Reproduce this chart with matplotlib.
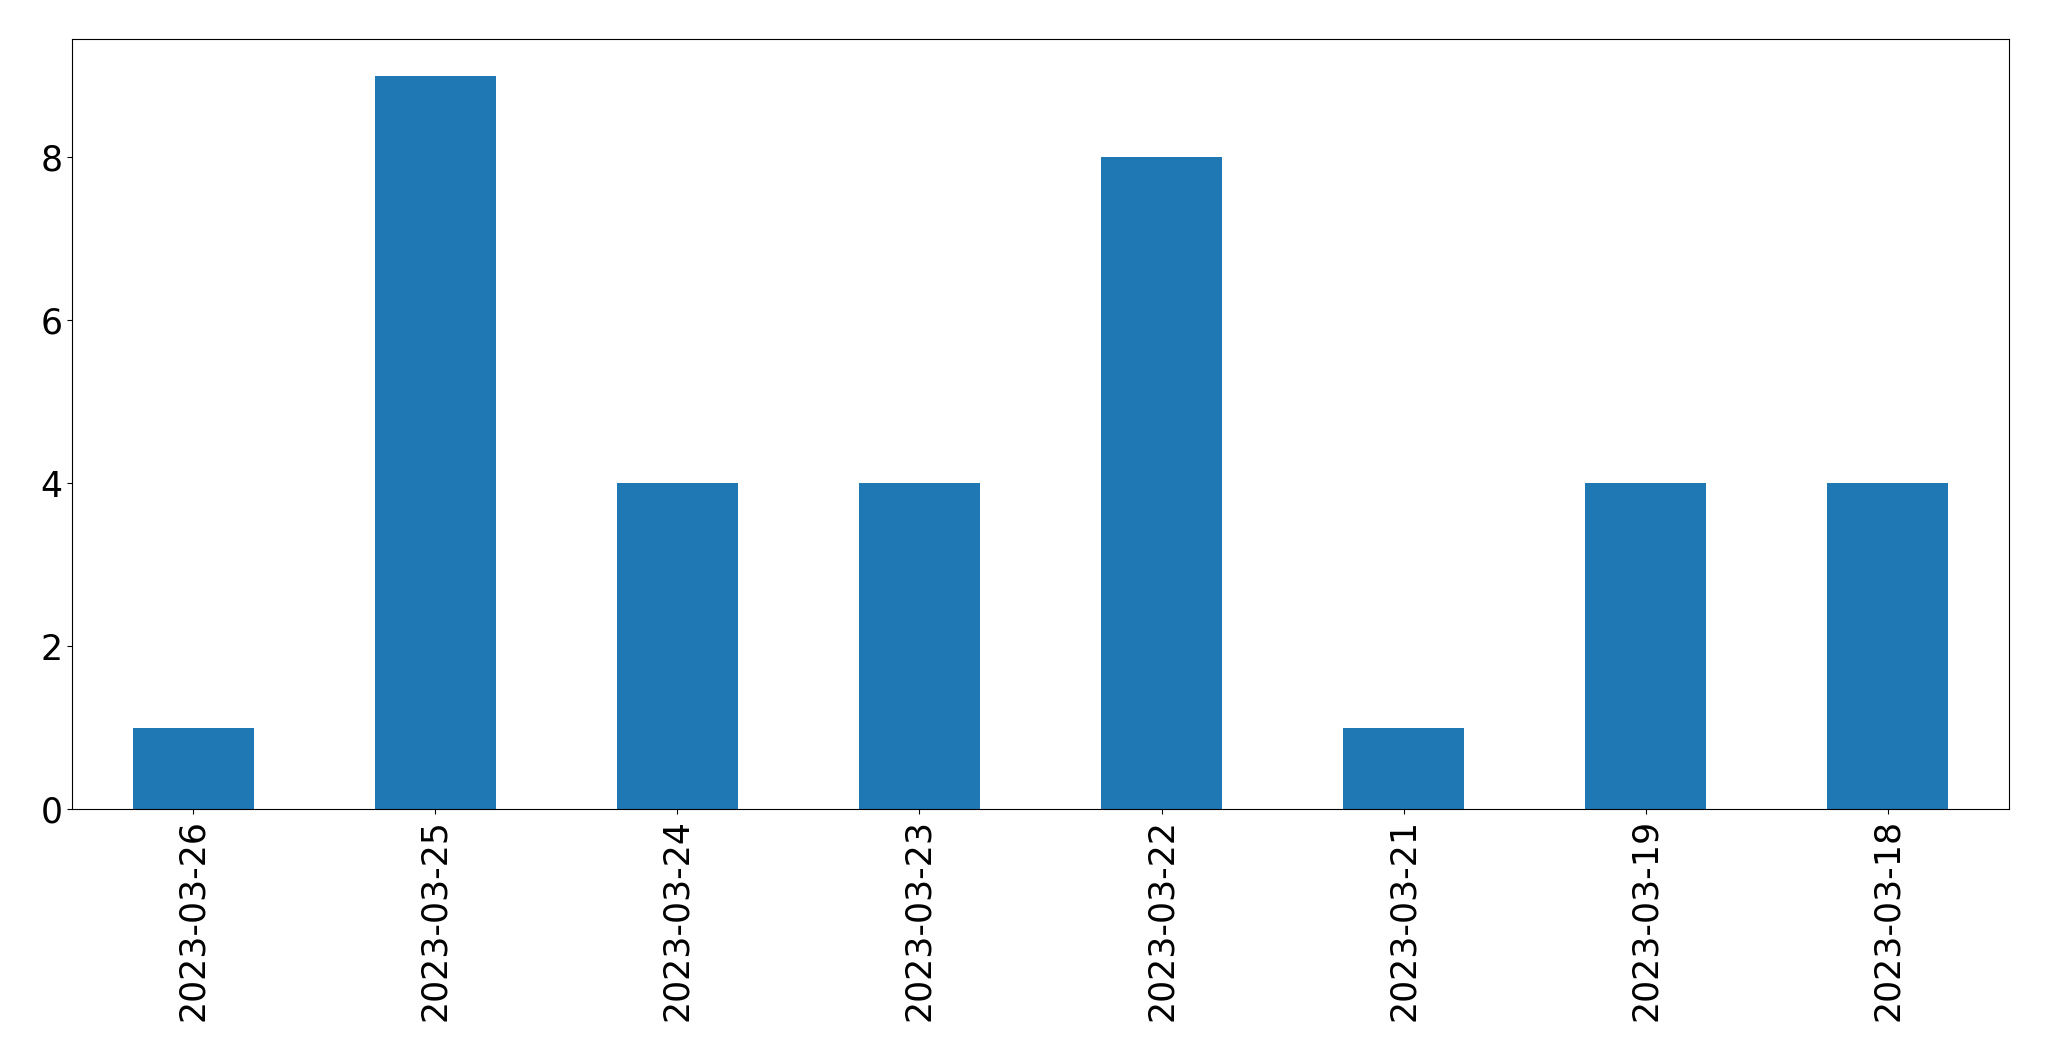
import matplotlib
matplotlib.use("Agg")
import matplotlib.pyplot as plt

dates = ["2023-03-26", "2023-03-25", "2023-03-24", "2023-03-23",
         "2023-03-22", "2023-03-21", "2023-03-19", "2023-03-18"]
counts = [1, 9, 4, 4, 8, 1, 4, 4]

fig = plt.figure(figsize=(20.49, 10.61), dpi=100)
ax = fig.add_axes([72/2049, 1 - 809/1061, (2009 - 72)/2049, (809 - 39)/1061])
x = list(range(len(dates)))
ax.bar(x, counts, width=0.5, color="#1f77b4")
ax.set_xlim(-0.5, len(dates) - 0.5)
ax.set_ylim(0, max(counts) * 1.05)
ax.set_xticks(x)
ax.set_xticklabels(dates, rotation=90, fontsize=25)
ax.tick_params(axis="y", labelsize=25)
fig.savefig("out.png", dpi=100)
